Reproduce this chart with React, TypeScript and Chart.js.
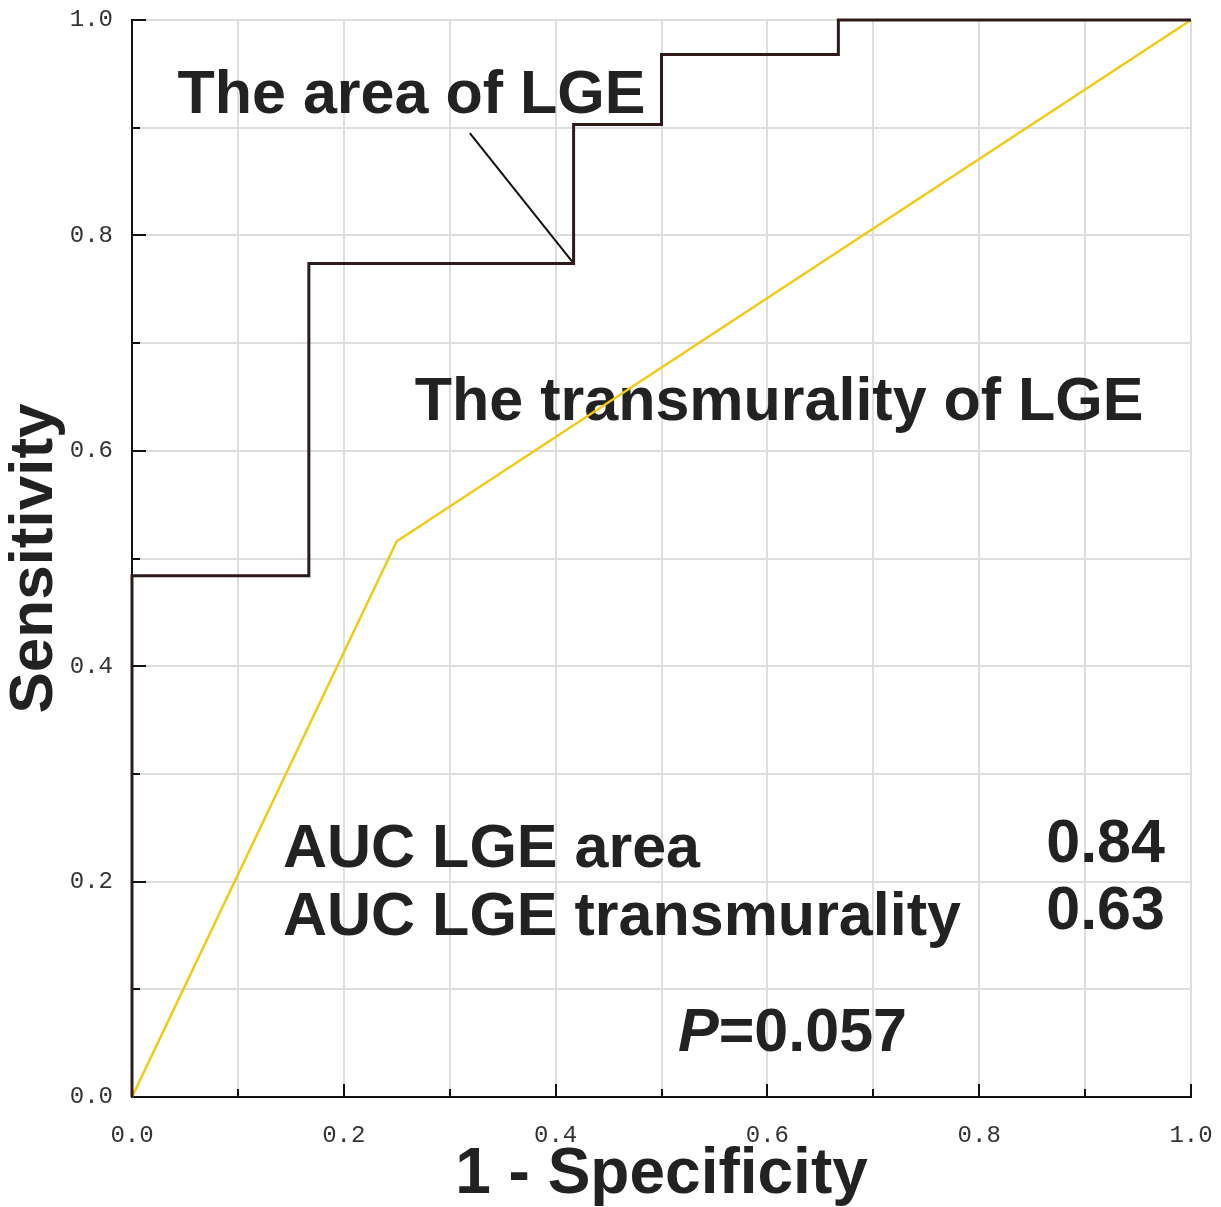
import React, { useEffect, useRef } from "react";
import { Chart, registerables } from "chart.js";

Chart.register(...registerables);

// ROC curve based on the area of LGE (stepwise)
const areaFpr = [0, 0, 0.167, 0.167, 0.417, 0.417, 0.5, 0.5, 0.667, 0.667, 1.0];
const areaTpr = [0, 0.484, 0.484, 0.774, 0.774, 0.903, 0.903, 0.968, 0.968, 1.0, 1.0];

// ROC curve based on the transmurality of LGE
const transFpr = [0, 0.25, 1.0];
const transTpr = [0, 0.516, 1.0];

// AUC summary
const aucLabels = ["AUC LGE area", "AUC LGE transmurality"];
const aucValues = ["0.84", "0.63"];
const pValue = "0.057";

const xTitle = "1 - Specificity";
const yTitle = "Sensitivity";

const INK = "#222222";
const AXIS = "#111111";
const BOLD = '"Liberation Sans", Arial, sans-serif';

const isMajor = (v: number) => Math.round(v * 10) % 2 === 0;

const annotations = {
  id: "rocAnnotations",
  beforeDatasetsDraw(chart: any) {
    const { ctx } = chart;
    const xs = chart.scales.x;
    const ys = chart.scales.y;
    const X = (v: number) => xs.getPixelForValue(v);
    const Y = (v: number) => ys.getPixelForValue(v);
    ctx.save();

    // inward tick marks
    ctx.strokeStyle = AXIS;
    ctx.lineWidth = 2;
    ctx.beginPath();
    xs.ticks.forEach((t: any) => {
      const px = Math.round(X(t.value));
      const len = isMajor(t.value) ? 13 : 8;
      ctx.moveTo(px, ys.bottom);
      ctx.lineTo(px, ys.bottom - len);
    });
    ys.ticks.forEach((t: any) => {
      const py = Math.round(Y(t.value));
      const len = isMajor(t.value) ? 14 : 8;
      ctx.moveTo(xs.left, py);
      ctx.lineTo(xs.left + len, py);
    });
    ctx.stroke();

    // curve labels
    ctx.fillStyle = INK;
    ctx.textBaseline = "alphabetic";
    ctx.textAlign = "left";
    ctx.font = `bold 61px ${BOLD}`;
    ctx.fillText("The area of LGE", X(0.043), Y(0.914));
    ctx.fillText("The transmurality of LGE", X(0.267), Y(0.629));

    // leader line to the curve
    ctx.beginPath();
    ctx.lineWidth = 2;
    ctx.moveTo(X(0.319), Y(0.895));
    ctx.lineTo(X(0.417), Y(0.774));
    ctx.stroke();

    // AUC table
    ctx.fillText(aucLabels[0], X(0.1426), Y(0.2136));
    ctx.fillText(aucLabels[1], X(0.1426), Y(0.1504));
    ctx.textAlign = "right";
    ctx.fillText(aucValues[0], X(0.9754), Y(0.2182));
    ctx.fillText(aucValues[1], X(0.9754), Y(0.156));

    // P value
    ctx.textAlign = "left";
    const px0 = X(0.5156);
    const pyb = Y(0.0427);
    ctx.font = `italic bold 61px ${BOLD}`;
    ctx.fillText("P", px0, pyb);
    const pw = ctx.measureText("P").width;
    ctx.font = `bold 61px ${BOLD}`;
    ctx.fillText("=" + pValue, px0 + pw, pyb);

    ctx.restore();
  },
};

export default function App() {
  const ref = useRef<HTMLCanvasElement | null>(null);

  useEffect(() => {
    document.body.style.margin = "0";
    const canvas = ref.current;
    if (!canvas) return;

    const tickFont = { family: '"Liberation Mono", "DejaVu Sans Mono", monospace', size: 24 };
    const tickCb = (v: any) => (isMajor(Number(v)) ? Number(v).toFixed(1) : "");

    const chart = new Chart(canvas, {
      type: "scatter",
      data: {
        datasets: [
          {
            label: "The transmurality of LGE",
            data: transFpr.map((x, i) => ({ x, y: transTpr[i] })),
            showLine: true,
            borderColor: "#f3c914",
            borderWidth: 2.5,
            pointRadius: 0,
            clip: 6,
            order: 2,
          },
          {
            label: "The area of LGE",
            data: areaFpr.map((x, i) => ({ x, y: areaTpr[i] })),
            showLine: true,
            borderColor: "#2e1a1a",
            borderWidth: 3,
            pointRadius: 0,
            clip: 6,
            order: 1,
          },
        ],
      },
      options: {
        animation: false,
        responsive: false,
        devicePixelRatio: 1,
        layout: { padding: { top: 20, right: 30, left: 0, bottom: 0 } },
        plugins: { legend: { display: false }, tooltip: { enabled: false } },
        scales: {
          x: {
            type: "linear",
            min: 0,
            max: 1,
            afterFit: (s: any) => {
              s.height = 110;
              s.paddingLeft = 0;
              s.paddingRight = 0;
            },
            ticks: {
              stepSize: 0.1,
              callback: tickCb,
              font: tickFont,
              color: "#333333",
              padding: 24,
              maxRotation: 0,
              autoSkip: false,
            },
            grid: { color: "#dedede", lineWidth: 2, drawTicks: false },
            border: { display: true, color: AXIS, width: 2 },
            title: {
              display: true,
              text: xTitle,
              color: INK,
              font: { family: BOLD, size: 64, weight: "bold", lineHeight: 1 },
              padding: { top: 0, bottom: 0 },
            },
          },
          y: {
            type: "linear",
            min: 0,
            max: 1,
            afterFit: (s: any) => {
              s.width = 132;
              s.paddingTop = 0;
              s.paddingBottom = 0;
            },
            ticks: {
              stepSize: 0.1,
              callback: tickCb,
              font: tickFont,
              color: "#333333",
              padding: 19,
              autoSkip: false,
            },
            grid: { color: "#dedede", lineWidth: 2, drawTicks: false },
            border: { display: true, color: AXIS, width: 2 },
            title: {
              display: true,
              text: yTitle,
              color: INK,
              font: { family: BOLD, size: 62, weight: "bold", lineHeight: 1 },
              padding: { top: 4, bottom: 0 },
            },
          },
        },
      },
      plugins: [annotations],
    });

    return () => chart.destroy();
  }, []);

  return (
    <div style={{ position: "absolute", left: 0, top: 0, width: 1221, height: 1207, background: "#ffffff" }}>
      <canvas ref={ref} width={1221} height={1207} style={{ width: 1221, height: 1207, display: "block" }} />
    </div>
  );
}
